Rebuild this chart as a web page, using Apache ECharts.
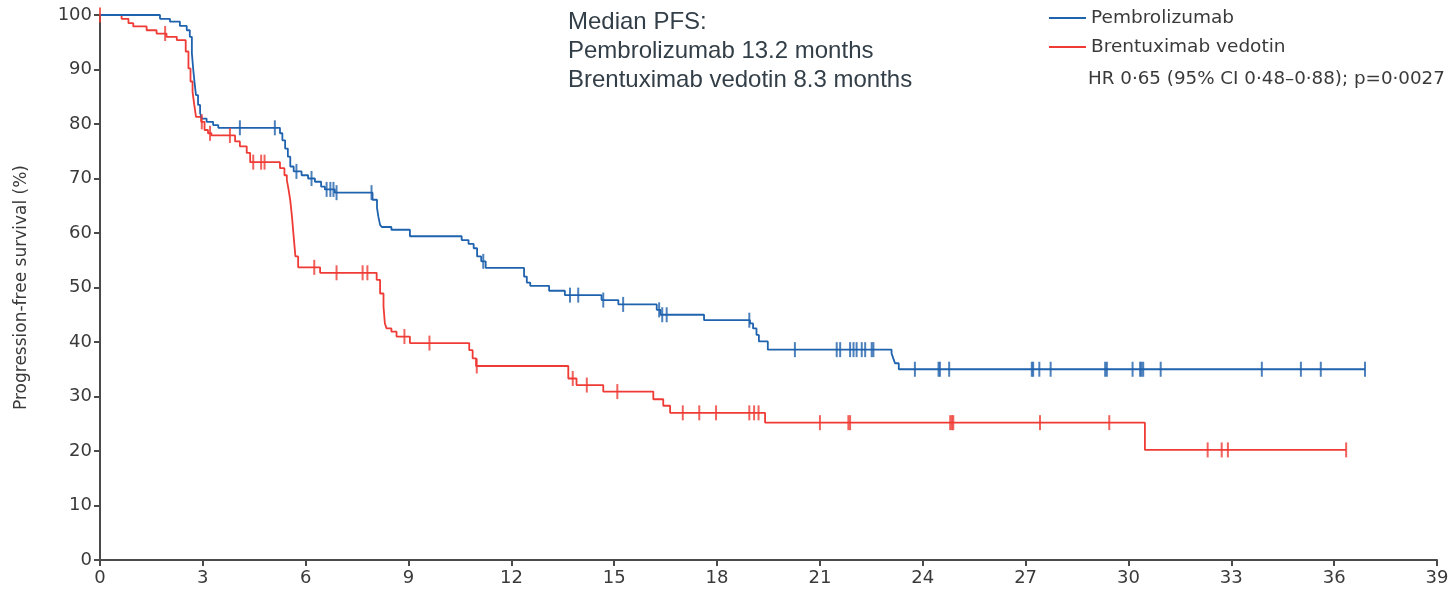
<!DOCTYPE html>
<html>
<head>
<meta charset="utf-8">
<script src="https://cdn.jsdelivr.net/npm/echarts@6/dist/echarts.min.js"></script>
<style>
  html, body { margin: 0; padding: 0; background: #fff; }
  #chart { width: 1454px; height: 600px; }
</style>
</head>
<body>
<div id="chart"></div>
<script>
// Kaplan–Meier progression-free survival, months vs %
const xTicks = [0, 3, 6, 9, 12, 15, 18, 21, 24, 27, 30, 33, 36, 39];
const yTicks = [0, 10, 20, 30, 40, 50, 60, 70, 80, 90, 100];

// Pembrolizumab: [time of event (months), survival after event (%)]
const pembroSteps = [
  [0, 100], [1.75, 99.3], [2.04, 98.8], [2.33, 98.0], [2.53, 97.2], [2.62, 96.0],
  [2.68, 93.0], [2.72, 90.0], [2.76, 87.5], [2.80, 85.3], [2.86, 83.5], [2.92, 82.0],
  [2.97, 81.0], [3.11, 80.4], [3.30, 79.8], [3.45, 79.3],
  [5.25, 78.3], [5.32, 77.0], [5.40, 75.5], [5.48, 74.0], [5.55, 72.2], [5.65, 71.3],
  [5.88, 70.6], [6.07, 70.0], [6.27, 69.4], [6.45, 68.5], [6.56, 68.0], [6.85, 67.4],
  [7.95, 66.1], [8.08, 64.6], [8.12, 63.0], [8.17, 61.5], [8.22, 61.1], [8.50, 60.6],
  [9.04, 59.4], [10.55, 58.7], [10.75, 58.0], [10.90, 57.2], [11.00, 55.7], [11.12, 54.8],
  [11.25, 53.6], [12.37, 52.0], [12.45, 50.9], [12.55, 50.3], [13.10, 49.4], [13.56, 48.6],
  [14.63, 47.7], [15.12, 46.9], [16.24, 45.9], [16.35, 45.0], [17.62, 44.0], [18.96, 43.4],
  [19.05, 42.5], [19.15, 41.3], [19.22, 40.1], [19.48, 38.6], [23.09, 37.9], [23.14, 37.0],
  [23.19, 36.1], [23.30, 35.0], [36.90, 35.0]
];
const pembroCensored = [
  4.08, 5.10, 5.73, 6.17, 6.61, 6.72, 6.81, 6.90, 7.92, 11.18, 13.71, 13.95, 14.68,
  15.26, 16.31, 16.40, 16.53, 18.94, 20.27, 21.49, 21.59, 21.88, 21.98, 22.07, 22.22,
  22.32, 22.51, 22.56, 23.77, 24.46, 24.50, 24.77, 27.18, 27.22, 27.40, 27.73, 29.32,
  29.37, 30.12, 30.34, 30.38, 30.43, 30.94, 33.89, 35.03, 35.61, 36.90
];

// Brentuximab vedotin
const bvSteps = [
  [0, 100], [0.63, 99.3], [0.83, 98.5], [0.97, 97.9], [1.36, 97.2], [1.65, 96.6],
  [1.94, 96.0], [2.24, 95.4], [2.50, 93.3], [2.58, 90.2], [2.64, 87.8], [2.70, 85.9],
  [2.75, 83.5], [2.80, 81.3], [2.95, 80.4], [3.05, 78.9], [3.15, 78.3], [3.25, 77.9],
  [3.94, 76.8], [4.08, 75.9], [4.28, 74.7], [4.38, 73.0], [5.25, 71.9], [5.38, 70.6],
  [5.45, 69.7], [5.50, 68.0], [5.55, 66.0], [5.60, 63.0], [5.65, 59.3], [5.70, 55.7],
  [5.78, 53.7], [6.42, 52.7], [8.07, 51.4], [8.17, 48.9], [8.27, 46.5], [8.31, 43.4],
  [8.36, 42.5], [8.50, 41.9], [8.65, 41.0], [9.04, 39.8], [10.77, 38.5], [10.87, 37.0],
  [10.97, 35.6], [13.66, 33.3], [13.90, 32.1], [14.68, 30.9], [16.14, 29.5], [16.43, 28.3],
  [16.63, 27.0], [19.40, 25.2], [30.48, 20.2], [36.35, 20.2]
];
const bvCensored = [
  0, 1.90, 2.97, 3.21, 3.79, 4.47, 4.70, 4.80, 6.25, 6.90, 7.66, 7.80, 8.88, 9.61,
  10.99, 13.79, 14.20, 15.09, 17.00, 17.48, 17.97, 18.94, 19.08, 19.21, 21.00, 21.83,
  21.88, 24.80, 24.85, 24.89, 27.42, 29.44, 32.31, 32.72, 32.90, 36.35
];

const seriesNames = ['Pembrolizumab', 'Brentuximab vedotin'];
const medianText = ['Median PFS:', 'Pembrolizumab 13.2 months', 'Brentuximab vedotin 8.3 months'];
const hrText = 'HR 0\u00b765 (95% CI 0\u00b748\u20130\u00b788); p=0\u00b70027';

const BLUE = '#1f62ad';
const RED = '#ef3b35';
const AXIS = '#4a4a4a';
const LANCET_FONT = '"DejaVu Sans", sans-serif';

// survival level of a step curve at time t (used to seat censor ticks on the curve)
function survivalAt(steps, t) {
  let s = steps[0][1];
  for (const [time, val] of steps) {
    if (time <= t) s = val; else break;
  }
  return s;
}
const censorPoints = (steps, times) => times.map(t => [t, survivalAt(steps, t)]);

const chart = echarts.init(document.getElementById('chart'), null, { renderer: 'canvas' });

const axisCommon = {
  type: 'value',
  axisLine: { show: true, lineStyle: { color: AXIS, width: 2 } },
  axisTick: { show: true, length: 6, lineStyle: { color: AXIS, width: 2 } },
  splitLine: { show: false },
  axisLabel: { color: '#3a3a3a', fontSize: 18, fontFamily: LANCET_FONT }
};

chart.setOption({
  animation: false,
  backgroundColor: '#ffffff',
  grid: { left: 100, right: 17, top: 15, bottom: 40 },
  xAxis: Object.assign({}, axisCommon, {
    min: xTicks[0], max: xTicks[xTicks.length - 1], interval: xTicks[1] - xTicks[0],
    axisLabel: Object.assign({}, axisCommon.axisLabel, { margin: 9 })
  }),
  yAxis: Object.assign({}, axisCommon, {
    min: yTicks[0], max: yTicks[yTicks.length - 1], interval: yTicks[1] - yTicks[0],
    name: 'Progression-free survival (%)',
    nameLocation: 'middle',
    nameGap: 70,
    nameTextStyle: { color: '#3a3a3a', fontSize: 17, fontFamily: LANCET_FONT },
    axisLabel: Object.assign({}, axisCommon.axisLabel, { margin: 8 })
  }),
  legend: {
    data: seriesNames.map(name => ({ name: name, icon: 'rect' })),
    orient: 'vertical',
    left: 1044,
    top: 2,
    itemWidth: 37,
    itemHeight: 2,
    itemGap: 7,
    selectedMode: false,
    textStyle: { color: '#3a3a3a', fontSize: 18.5, fontFamily: LANCET_FONT, lineHeight: 22 }
  },
  graphic: [
    {
      type: 'text', left: 568, top: 8, silent: true,
      style: {
        text: medianText.join('\n'),
        font: '24px "Liberation Sans", Arial, sans-serif',
        lineHeight: 29,
        fill: '#333f48'
      }
    },
    {
      type: 'text', left: 1088, top: 70, silent: true,
      style: {
        text: hrText,
        font: '18.3px ' + LANCET_FONT,
        fill: '#3a3a3a'
      }
    }
  ],
  series: [
    {
      name: seriesNames[0], type: 'line', step: 'end', symbol: 'none',
      data: pembroSteps, lineStyle: { color: BLUE, width: 1.8 }, itemStyle: { color: BLUE }, z: 3
    },
    {
      name: seriesNames[1], type: 'line', step: 'end', symbol: 'none',
      data: bvSteps, lineStyle: { color: RED, width: 1.8 }, itemStyle: { color: RED }, z: 2
    },
    {
      name: seriesNames[0] + ' censored', type: 'scatter', symbol: 'rect', symbolSize: [2, 15],
      data: censorPoints(pembroSteps, pembroCensored), itemStyle: { color: BLUE }, z: 4, silent: true
    },
    {
      name: seriesNames[1] + ' censored', type: 'scatter', symbol: 'rect', symbolSize: [2, 15],
      data: censorPoints(bvSteps, bvCensored), itemStyle: { color: RED }, z: 4, silent: true
    }
  ]
});
</script>
</body>
</html>
